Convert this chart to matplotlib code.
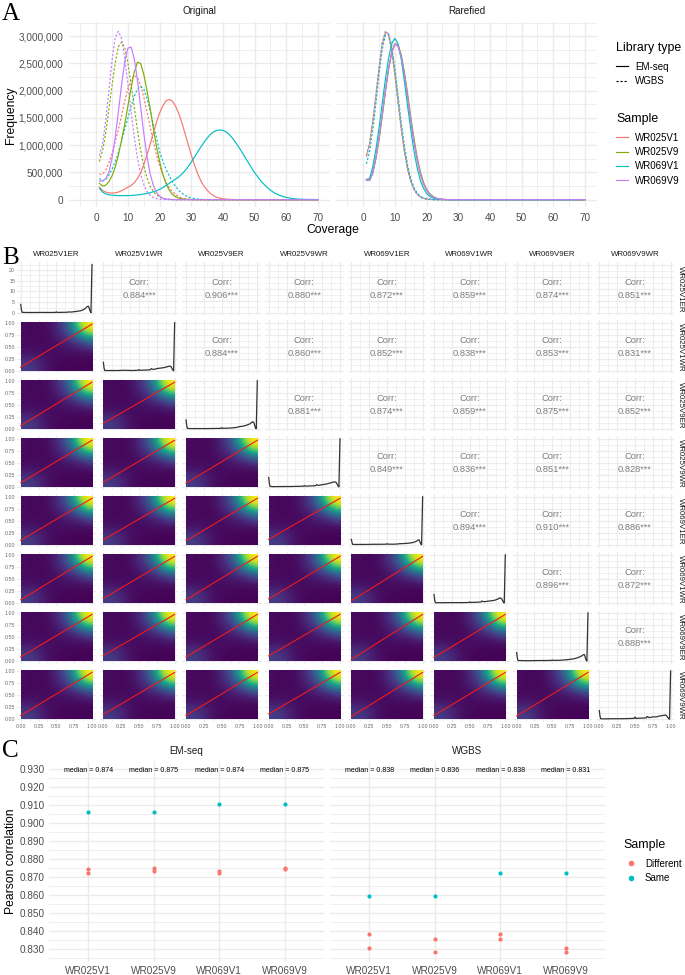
import numpy as np
import matplotlib
matplotlib.use("Agg")
import matplotlib.pyplot as plt
from matplotlib.lines import Line2D

plt.rcParams['font.family'] = ['Liberation Sans', 'DejaVu Sans']

W, H = 685, 975

samples = ["WR025V1", "WR025V9", "WR069V1", "WR069V9"]
sample_colors = ["#F8766D", "#7CAE00", "#00BFC4", "#C77CFF"]
libraries = ["EM-seq", "WGBS"]
lib_styles = ["-", (0, (1.8, 1.6))]

# coverage positions, frequencies below in thousands (zero after the list ends)
coverage = list(range(1, 47)) + list(range(48, 68, 2)) + [70]

orig_em = [
    [230, 170, 140, 125, 120, 125, 140, 165, 195, 230, 260, 310, 390, 490, 640, 820, 1010, 1220, 1420, 1590,
     1720, 1810, 1840, 1810, 1720, 1590, 1420, 1220, 1020, 820, 640, 480, 350, 250, 175, 115, 75, 45, 28, 18,
     10, 6, 4, 2],
    [300, 250, 265, 330, 440, 600, 820, 1090, 1390, 1720, 2050, 2340, 2520, 2500, 2300, 2010, 1680, 1320, 980, 700,
     470, 300, 180, 100, 55, 30, 15, 8, 4, 2],
    [210, 140, 105, 90, 82, 78, 75, 74, 74, 76, 78, 82, 88, 95, 105, 115, 128, 145, 165, 190,
     222, 260, 298, 340, 375, 415, 470, 530, 605, 690, 780, 873, 965, 1050, 1130, 1195, 1245, 1270, 1280, 1270,
     1245, 1195, 1130, 1050, 965, 873, 680, 497, 342, 221, 133, 76, 41, 21, 10, 6, 3],
    [340, 345, 390, 500, 770, 1150, 1620, 2110, 2530, 2780, 2800, 2590, 2200, 1710, 1220, 800, 480, 265, 135, 65,
     28, 12, 5, 2],
]
orig_wgbs = [
    [470, 465, 540, 680, 850, 1060, 1290, 1550, 1810, 2040, 2200, 2280, 2240, 2100, 1880, 1620, 1340, 1070, 830, 620,
     460, 320, 225, 150, 95, 60, 35, 20, 10, 6],
    [700, 900, 1230, 1660, 2100, 2520, 2810, 2890, 2790, 2510, 2110, 1700, 1280, 910, 620, 400, 250, 150, 90, 50,
     28, 15, 8, 4],
    [390, 340, 370, 450, 560, 700, 870, 1070, 1290, 1500, 1710, 1890, 2030, 2080, 2030, 1860, 1640, 1390, 1140, 880,
     710, 560, 440, 330, 245, 170, 120, 80, 50, 30, 20, 12, 7, 4],
    [810, 1030, 1450, 2000, 2560, 2980, 3090, 2960, 2600, 2120, 1610, 1150, 770, 480, 280, 150, 80, 40, 20, 10,
     5, 2],
]
rare_em = [
    [370, 360, 500, 780, 1140, 1570, 2010, 2410, 2710, 2860, 2810, 2610, 2280, 1880, 1450, 1060, 730, 470, 290, 170,
     100, 50, 25, 12, 6, 3],
    [360, 350, 480, 750, 1100, 1530, 1980, 2390, 2700, 2860, 2840, 2660, 2340, 1950, 1520, 1130, 790, 520, 325, 190,
     110, 60, 30, 15, 8, 4],
    [370, 390, 600, 920, 1320, 1770, 2210, 2600, 2860, 2960, 2860, 2580, 2170, 1720, 1290, 900, 590, 360, 210, 115,
     60, 30, 15, 7, 3, 2],
    [365, 355, 490, 770, 1130, 1560, 2000, 2400, 2700, 2860, 2820, 2630, 2300, 1900, 1470, 1080, 750, 485, 300, 175,
     100, 52, 26, 13, 6, 3],
]
rare_wgbs = [
    [790, 1000, 1400, 1880, 2400, 2850, 3060, 3030, 2760, 2320, 1820, 1330, 910, 580, 350, 200, 105, 55, 25, 12,
     6, 2],
    [820, 1040, 1440, 1920, 2440, 2880, 3080, 3020, 2730, 2280, 1780, 1290, 880, 560, 335, 190, 100, 50, 24, 11,
     5, 2],
    [660, 880, 1280, 1760, 2300, 2760, 3020, 3040, 2830, 2420, 1920, 1420, 990, 640, 390, 225, 120, 62, 30, 14,
     7, 3],
    [800, 1010, 1420, 1900, 2430, 2870, 3090, 3040, 2750, 2300, 1790, 1300, 890, 565, 340, 195, 102, 52, 25, 12,
     6, 2],
]

pair_labels = ["WR025V1ER", "WR025V1WR", "WR025V9ER", "WR025V9WR",
               "WR069V1ER", "WR069V1WR", "WR069V9ER", "WR069V9WR"]
pair_corr = [
    [0.884, 0.906, 0.880, 0.872, 0.859, 0.874, 0.851],
    [0.884, 0.860, 0.852, 0.838, 0.853, 0.831],
    [0.881, 0.874, 0.859, 0.875, 0.852],
    [0.849, 0.836, 0.851, 0.828],
    [0.894, 0.910, 0.886],
    [0.896, 0.872],
    [0.888],
]
# red fit line height at x=0, lower triangle
line_start = [
    [0.08],
    [0.07, 0.12],
    [0.09, 0.10, 0.08],
    [0.10, 0.11, 0.09, 0.12],
    [0.07, 0.10, 0.07, 0.09, 0.05],
    [0.09, 0.12, 0.09, 0.11, 0.04, 0.08],
    [0.08, 0.10, 0.08, 0.11, 0.06, 0.08, 0.07],
]
# density, bottom row first, colour scale 0-1
density_grid = [
    [.18, .16, .09, .04, .02, .01, .01, .01, .01],
    [.16, .14, .09, .04, .02, .02, .01, .01, .01],
    [.10, .09, .06, .04, .03, .02, .02, .02, .02],
    [.05, .05, .04, .03, .03, .04, .04, .05, .06],
    [.03, .03, .03, .03, .04, .06, .08, .11, .18],
    [.03, .02, .02, .03, .05, .10, .16, .26, .36],
    [.03, .02, .02, .03, .08, .14, .28, .48, .68],
    [.03, .02, .02, .04, .10, .20, .40, .72, .95],
    [.03, .02, .02, .04, .11, .24, .50, .90, 1.0],
]
diag_x = [0, .01, .02, .05, .1, .2, .3, .4, .49, .5, .51, .6, .66, .67, .7, .75, .8, .85, .9, .93, .95, .97, .985, 1.0]
diag_y = [
    [4.0, 1.5, .3, .25, .22, .22, .25, .22, .25, .55, .25, .3, .35, .5, .4, .6, .8, 1.1, 1.9, 2.9, 3.2, 1.2, 0, 22.5],
    [.18, .06, .01, .01, .01, .01, .015, .01, .015, .03, .015, .02, .025, .05, .03, .05, .06, .07, .09, .10, .09, .03, 0, 1],
    [.19, .07, .015, .01, .01, .01, .01, .012, .015, .03, .015, .02, .025, .03, .03, .05, .06, .08, .11, .15, .14, .04, 0, 1],
    [.20, .07, .015, .01, .01, .012, .012, .015, .02, .035, .02, .025, .03, .05, .035, .05, .06, .08, .10, .11, .09, .03, 0, 1],
    [.12, .05, .015, .015, .015, .015, .018, .018, .02, .03, .02, .02, .025, .03, .03, .035, .04, .05, .07, .10, .11, .04, 0, 1],
    [.18, .06, .01, .01, .01, .012, .012, .012, .015, .03, .015, .02, .025, .045, .03, .04, .05, .06, .09, .11, .09, .03, 0, 1],
    [.18, .06, .015, .015, .012, .012, .015, .015, .018, .025, .018, .02, .025, .03, .03, .04, .05, .07, .10, .13, .14, .04, 0, 1],
    [.18, .06, .012, .01, .01, .012, .012, .015, .02, .05, .02, .025, .03, .06, .035, .05, .05, .07, .08, .09, .06, .02, 0, 1],
]

em_same = [0.9063, 0.9063, 0.9105, 0.9105]
em_diff = [[0.8743, 0.8725], [0.8753, 0.8736], [0.8735, 0.8725], [0.8753, 0.8745]]
wgbs_same = [0.8597, 0.8597, 0.8723, 0.8723]
wgbs_diff = [[0.8382, 0.8307], [0.8356, 0.8281], [0.8382, 0.8356], [0.8307, 0.8281]]
em_median = ["0.874", "0.875", "0.874", "0.875"]
wgbs_median = ["0.838", "0.836", "0.838", "0.831"]
diff_color, same_color = "#F8766D", "#00BFC4"

GRID = "#EBEBEB"
TICK = "#4D4D4D"
STRIP = "#1A1A1A"

fig = plt.figure(figsize=(W / 100, H / 100), dpi=100)


def px_axes(x0, y0, x1, y1):
    # box given in image pixels, y counted from the top
    ax = fig.add_axes([x0 / W, 1 - y1 / H, (x1 - x0) / W, (y1 - y0) / H])
    for s in ax.spines.values():
        s.set_visible(False)
    ax.set_axisbelow(True)
    return ax


def px_text(x, y, s, **kw):
    kw.setdefault('ha', 'center')
    kw.setdefault('va', 'center')
    fig.text(x / W, 1 - y / H, s, **kw)


def set_grid(ax, major_lw=1.0, minor_lw=0.55):
    ax.grid(which='major', color=GRID, lw=major_lw)
    ax.grid(which='minor', color=GRID, lw=minor_lw)
    ax.tick_params(which='both', length=0)


def pad_curve(vals):
    vals = np.array(vals, dtype=float) * 1000
    return np.pad(vals, (0, len(coverage) - len(vals)))


def add_legend(handles, labels, title, x, y, hl=1.25, pad=0.72):
    leg = fig.legend(handles, labels, title=title, loc='upper left', bbox_to_anchor=(x / W, 1 - y / H),
                     frameon=False, fontsize=7, title_fontsize=8.9, alignment='left', handlelength=hl,
                     handletextpad=pad, labelspacing=0.45, borderaxespad=0, borderpad=0.3)
    leg._legend_box.sep = 5.6
    return leg


# ---- panel A
def draw_cov(ax, em, wgbs, show_y):
    for i in range(4):
        ax.plot(coverage, pad_curve(wgbs[i]), color=sample_colors[i], ls=lib_styles[1], lw=0.85)
    for i in range(4):
        ax.plot(coverage, pad_curve(em[i]), color=sample_colors[i], ls=lib_styles[0], lw=0.85)
    ax.set_xlim(-8.6, 73.8)
    ax.set_ylim(-134000, 3260000)
    ax.set_xticks(np.arange(0, 80, 10))
    ax.set_xticks(np.arange(-5, 75, 10), minor=True)
    ax.set_yticks(np.arange(0, 3000001, 500000))
    ax.set_yticks(np.arange(250000, 3300000, 500000), minor=True)
    set_grid(ax)
    ax.tick_params(axis='x', labelsize=7.2, labelcolor=TICK, pad=4)
    if show_y:
        ax.set_yticklabels([f"{int(v):,}" for v in ax.get_yticks()])
        ax.tick_params(axis='y', labelsize=7.2, labelcolor=TICK, pad=4)
    else:
        ax.tick_params(axis='y', labelleft=False)


ax_orig = px_axes(69, 22, 330, 207)
draw_cov(ax_orig, orig_em, orig_wgbs, True)
ax_rare = px_axes(336, 22, 597, 207)
draw_cov(ax_rare, rare_em, rare_wgbs, False)
px_text(199.5, 11.5, "Original", fontsize=7.1, color=STRIP)
px_text(466.5, 11.5, "Rarefied", fontsize=7.1, color=STRIP)
px_text(333, 230, "Coverage", fontsize=8.7)
px_text(11, 115, "Frequency", fontsize=8.7, rotation=90)

lib_handles = [Line2D([], [], color='black', ls=s, lw=0.85) for s in lib_styles]
add_legend(lib_handles, libraries, "Library type", 613, 39)
sample_handles = [Line2D([], [], color=c, lw=0.85) for c in sample_colors]
add_legend(sample_handles, samples, "Sample", 613, 110)

# ---- panel B
col_x0 = 20.7
col_step = 82.66
col_w = 71.3
row_y1 = 322.7
row_step = 58.05
row_h = 48.3
major_ticks = [0, 0.25, 0.5, 0.75, 1.0]
minor_ticks = [0.125, 0.375, 0.625, 0.875]

for r in range(8):
    for c in range(8):
        x0 = col_x0 + c * col_step
        y_top = row_y1 + (r - 1) * row_step
        ax = px_axes(x0 - 0.05 * col_w, y_top - 0.05 * row_h, x0 + 1.05 * col_w, y_top + 1.05 * row_h)
        ax.set_xticks(major_ticks)
        ax.set_xticks(minor_ticks, minor=True)
        ax.set_xlim(-0.05, 1.05)
        if r == 0 and c == 0:
            ax.set_ylim(-1.12, 23.6)
            ax.set_yticks([0, 5, 10, 15, 20])
            ax.set_yticks([2.5, 7.5, 12.5, 17.5, 22.5], minor=True)
        else:
            ax.set_ylim(-0.05, 1.05)
            ax.set_yticks(major_ticks)
            ax.set_yticks(minor_ticks, minor=True)
        set_grid(ax, 0.8, 0.5)
        if r == c:
            ax.plot(diag_x, diag_y[c], color='#333333', lw=0.9, solid_joinstyle='miter')
        elif c > r:
            ax.text(0.5, 0.5 + 6.5 / (row_h * 1.1), "Corr:", transform=ax.transAxes, ha='center', va='center',
                    fontsize=6.7, color='#7F7F7F')
            ax.text(0.5, 0.5 - 6.5 / (row_h * 1.1), f"{pair_corr[r][c - r - 1]:.3f}***", transform=ax.transAxes,
                    ha='center', va='center', fontsize=6.7, color='#7F7F7F')
        else:
            ax.imshow(density_grid, origin='lower', extent=(0, 1, 0, 1), cmap='viridis', vmin=0, vmax=1,
                      interpolation='bicubic', interpolation_stage='data', aspect='auto', zorder=1)
            ax.plot([0, 1], [line_start[r - 1][c], 0.97], color='#F01A1A', lw=0.8, zorder=2)
            ax.set_xlim(-0.05, 1.05)
            ax.set_ylim(-0.05, 1.05)
        ax.tick_params(labelleft=(c == 0), labelbottom=(r == 7), labelsize=3.8, labelcolor='#666666', pad=1.5)
        if r == 7:
            ax.set_xticklabels(["0.00", "0.25", "0.50", "0.75", "1.00"])
        if c == 0 and r > 0:
            ax.set_yticklabels(["0.00", "0.25", "0.50", "0.75", "1.00"])
    px_text(680, row_y1 + (r - 1) * row_step + row_h / 2, pair_labels[r], fontsize=5.7, color=STRIP, rotation=-90)
for c in range(8):
    px_text(col_x0 + c * col_step + col_w / 2, 255, pair_labels[c], fontsize=5.7, color=STRIP)


# ---- panel C
def draw_corr(ax, same, diff, medians, show_y):
    pos = np.arange(1, 5)
    for i in range(4):
        ax.scatter([pos[i]] * len(diff[i]), diff[i], color=diff_color, s=9, linewidths=0, zorder=3)
    ax.scatter(pos, same, color=same_color, s=9, linewidths=0, zorder=3)
    for i in range(4):
        ax.text(pos[i], 0.9293, f"median = {medians[i]}", ha='center', va='center', fontsize=5.1, color='black')
    ax.set_xlim(0.4, 4.6)
    ax.set_ylim(0.8228, 0.9346)
    ax.set_xticks(pos)
    ax.set_xticklabels(samples)
    ax.set_yticks(np.arange(0.83, 0.9301, 0.01))
    ax.set_yticks(np.arange(0.825, 0.93, 0.01), minor=True)
    set_grid(ax)
    ax.tick_params(axis='x', labelsize=7.2, labelcolor=TICK, pad=3)
    if show_y:
        ax.set_yticklabels([f"{v:.3f}" for v in ax.get_yticks()])
        ax.tick_params(axis='y', labelsize=7.2, labelcolor=TICK, pad=3)
    else:
        ax.tick_params(axis='y', labelleft=False)


ax_em = px_axes(49, 761, 324, 962)
draw_corr(ax_em, em_same, em_diff, em_median, True)
ax_wg = px_axes(330, 761, 605, 962)
draw_corr(ax_wg, wgbs_same, wgbs_diff, wgbs_median, False)
px_text(186.5, 751.5, libraries[0], fontsize=7.1, color=STRIP)
px_text(467.5, 751.5, libraries[1], fontsize=7.1, color=STRIP)
px_text(11, 861, "Pearson correlation", fontsize=8.7, rotation=90)

corr_handles = [Line2D([], [], color=diff_color, ls='', marker='o', ms=3),
                Line2D([], [], color=same_color, ls='', marker='o', ms=3)]
add_legend(corr_handles, ["Different", "Same"], "Sample", 620, 836, hl=1.6, pad=0.67)

# panel letters
for letter, y in zip("ABC", [20, 264, 757]):
    px_text(2, y, letter, ha='left', va='baseline', fontsize=18, family=['Liberation Serif', 'DejaVu Serif'])

fig.savefig("out.png", dpi=100)
